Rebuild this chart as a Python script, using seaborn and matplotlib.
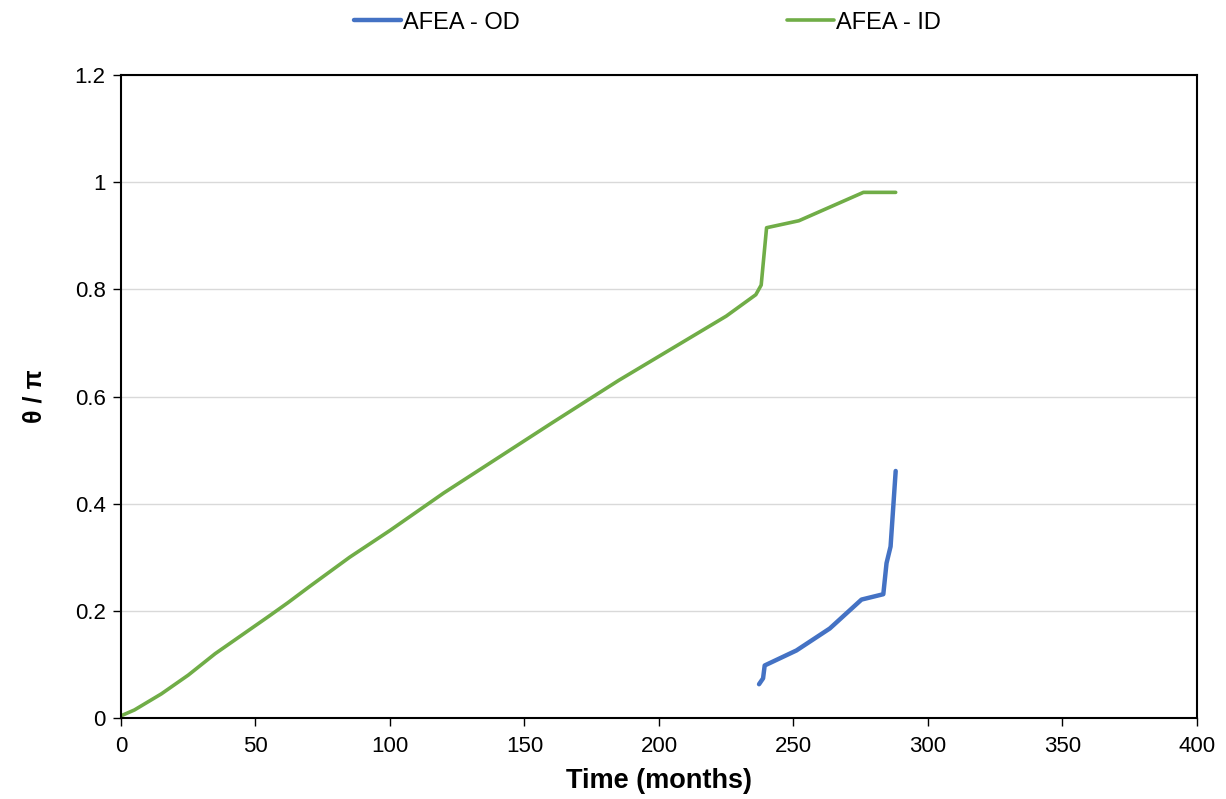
import matplotlib
matplotlib.use("Agg")
import matplotlib.pyplot as plt
import seaborn as sns
import pandas as pd

# AFEA - ID (green)
id_time = [0, 5, 10, 15, 25, 35, 45, 55, 62, 70, 85, 100, 120, 140, 160, 185, 200, 225, 236, 238, 240, 252, 276, 288]
id_theta = [0.004, 0.015, 0.03, 0.045, 0.08, 0.12, 0.155, 0.19, 0.215, 0.245, 0.3, 0.35, 0.42, 0.485, 0.55, 0.63, 0.675, 0.75, 0.79, 0.808, 0.915, 0.928, 0.981, 0.981]

# AFEA - OD (blue)
od_time = [237.2, 238.7, 239.3, 251.1, 263.5, 275.3, 283.4, 284.6, 286.1, 287.1, 288.0]
od_theta = [0.063, 0.074, 0.098, 0.126, 0.167, 0.221, 0.231, 0.289, 0.32, 0.394, 0.461]

x_ticks = [0, 50, 100, 150, 200, 250, 300, 350, 400]
y_ticks = [0, 0.2, 0.4, 0.6, 0.8, 1.0, 1.2]
y_labels = ["0", "0.2", "0.4", "0.6", "0.8", "1", "1.2"]

sns.set_theme(style="white")
plt.rcParams['font.family'] = ['Liberation Sans', 'DejaVu Sans']
plt.rcParams['text.color'] = 'black'
plt.rcParams['axes.labelcolor'] = 'black'

df = pd.concat([
    pd.DataFrame({"Time": od_time, "theta": od_theta, "series": "AFEA - OD"}),
    pd.DataFrame({"Time": id_time, "theta": id_theta, "series": "AFEA - ID"}),
])

fig = plt.figure(figsize=(12.26, 7.99), dpi=100)
ax = fig.add_axes([0.0987, 0.1014, 0.8776, 0.8047])

palette = {"AFEA - OD": "#4472C4", "AFEA - ID": "#70AD47"}
for name, lw in [("AFEA - OD", 3.2), ("AFEA - ID", 2.6)]:
    sub = df[df["series"] == name]
    sns.lineplot(data=sub, x="Time", y="theta", ax=ax, color=palette[name],
                 linewidth=lw, label=name, sort=False, estimator=None, legend=False)

ax.set_xlim(0, 400)
ax.set_ylim(0, 1.2)
ax.set_xticks(x_ticks)
ax.set_yticks(y_ticks)
ax.set_yticklabels(y_labels)
ax.tick_params(axis="both", labelsize=16, colors="black", direction="out",
               length=6, width=1, bottom=True, left=True, pad=5)
ax.tick_params(axis="x", pad=7)
ax.yaxis.grid(True, color="#D9D9D9", linewidth=1)
ax.xaxis.grid(False)
for s in ax.spines.values():
    s.set_color("black")
    s.set_linewidth(1.5)

ax.set_xlabel("Time (months)", fontsize=19.5, fontweight="bold", labelpad=8)
ax.set_ylabel("θ / π", fontsize=18, fontweight="bold", labelpad=20)

handles = [plt.Line2D([], [], color=palette["AFEA - OD"], linewidth=3.2),
           plt.Line2D([], [], color=palette["AFEA - ID"], linewidth=2.6)]
fig.legend(handles, ["AFEA - OD", "AFEA - ID"], loc="upper center",
           bbox_to_anchor=(0.528, 1.012), ncol=2, frameon=False, fontsize=17,
           columnspacing=11.3, handlelength=2.0, handletextpad=0.1)

fig.savefig("out.png", dpi=100)
